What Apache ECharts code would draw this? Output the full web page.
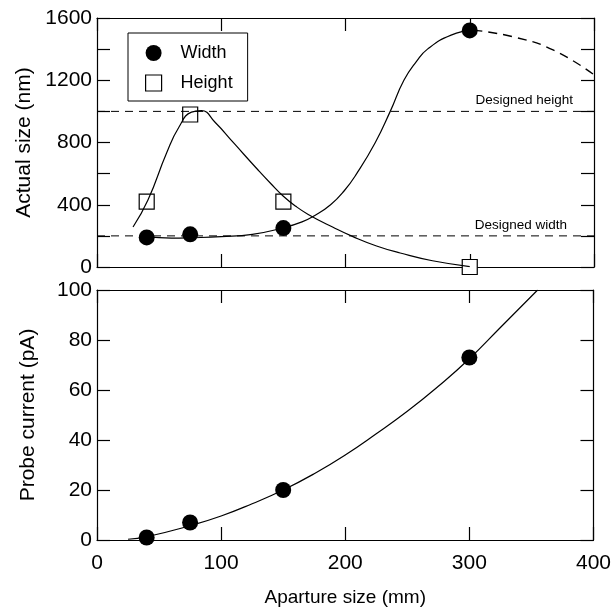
<!DOCTYPE html>
<html>
<head>
<meta charset="utf-8">
<script src="https://cdn.jsdelivr.net/npm/echarts@6/dist/echarts.min.js"></script>
<style>
  html, body { margin: 0; padding: 0; background: #fff; }
  #chart { width: 614px; height: 615px; }
</style>
</head>
<body>
<div id="chart"></div>
<script>
// measured points
const apertureSizes = [40, 75, 150, 300];
const widthValues = [190, 210, 250, 1520];
const heightValues = [420, 980, 420, 0];
const currentValues = [1, 7, 20, 73];

// fitted curves
const widthFit = [[40, 193], [60, 186], [75, 188], [100, 195], [125, 210], [150, 252], [165, 290], [175, 330], [188, 400], [199, 490], [209, 600], [224, 800], [236, 1000], [247, 1200], [257, 1320], [266, 1400], [285, 1490], [303, 1522]];
const widthFitDashed = [[303, 1522], [335, 1479], [367, 1395], [400, 1235]];
const heightFit = [[29, 257], [41, 430], [56, 733], [66, 900], [76, 995], [84, 1005], [95, 930], [110, 797], [130, 620], [140, 535], [150, 455], [160, 390], [170, 338], [190, 255], [206, 195], [225, 135], [244, 90], [270, 40], [300, 3]];
const currentFit = [[25, 0.3], [40, 1.3], [75, 5.7], [100, 9.6], [125, 14.5], [150, 20], [175, 26.5], [200, 34], [225, 42.5], [250, 51.5], [275, 61.5], [300, 72.5], [325, 85], [355, 100]];

const designedHeight = 1000;
const designedWidth = 200;

const xTicks = [0, 100, 200, 300, 400];

const font = 'Liberation Sans, Arial, Helvetica, sans-serif';
const black = '#000';

const mychart = echarts.init(document.getElementById('chart'));

function frameAxis(extra) {
  return Object.assign({
    type: 'value',
    axisLine: { show: true, onZero: false, lineStyle: { color: black, width: 1.2 } },
    axisTick: { show: true, inside: true, length: 13, lineStyle: { color: black, width: 1.2 } },
    axisLabel: { show: false },
    splitLine: { show: false }
  }, extra);
}

const tickLabel = { show: true, color: black, fontSize: 21, fontFamily: font };

const option = {
  animation: false,
  backgroundColor: '#fff',
  grid: [
    { left: 97, right: 20, top: 18, height: 249 },
    { left: 97, right: 20, top: 290, height: 250 }
  ],
  legend: {
    left: 128,
    top: 33,
    orient: 'vertical',
    itemWidth: 16,
    itemHeight: 16,
    itemGap: 12,
    padding: [11, 15, 9, 17],
    borderColor: black,
    borderWidth: 1,
    textStyle: { color: black, fontSize: 18, fontFamily: font, padding: [0, 0, 0, 14] },
    data: [
      { name: 'Width', icon: 'circle', itemStyle: { color: black, borderColor: black } },
      { name: 'Height', icon: 'rect', itemStyle: { color: '#fff', borderColor: black, borderWidth: 1.2 } }
    ]
  },
  xAxis: [
    frameAxis({ gridIndex: 0, position: 'bottom', min: 0, max: 400, interval: 100 }),
    frameAxis({ gridIndex: 0, position: 'top', min: 0, max: 400, interval: 100 }),
    frameAxis({
      gridIndex: 1, position: 'bottom', min: 0, max: 400, interval: 100,
      axisLabel: Object.assign({}, tickLabel, { margin: 13, formatter: v => xTicks.includes(v) ? String(v) : '' }),
      name: 'Aparture size (mm)', nameLocation: 'middle', nameGap: 48,
      nameTextStyle: { color: black, fontSize: 19, fontFamily: font }
    }),
    frameAxis({ gridIndex: 1, position: 'top', min: 0, max: 400, interval: 100 })
  ],
  yAxis: [
    frameAxis({
      gridIndex: 0, position: 'left', min: 0, max: 1600, interval: 200,
      axisLabel: Object.assign({}, tickLabel, { margin: 5, formatter: v => v % 400 === 0 ? String(v) : '' }),
      name: 'Actual size (nm)', nameLocation: 'middle', nameGap: 58,
      nameTextStyle: { color: black, fontSize: 21, fontFamily: font }
    }),
    frameAxis({ gridIndex: 0, position: 'right', min: 0, max: 1600, interval: 200 }),
    frameAxis({
      gridIndex: 1, position: 'left', min: 0, max: 100, interval: 20,
      axisLabel: Object.assign({}, tickLabel, { margin: 5 }),
      name: 'Probe current (pA)', nameLocation: 'middle', nameGap: 58,
      nameTextStyle: { color: black, fontSize: 21, fontFamily: font }
    }),
    frameAxis({ gridIndex: 1, position: 'right', min: 0, max: 100, interval: 20 })
  ],
  series: [
    {
      name: 'designed height', type: 'line', xAxisIndex: 0, yAxisIndex: 0,
      data: [[0, designedHeight], [400, designedHeight]], symbol: 'none', silent: true,
      lineStyle: { color: black, width: 1, type: [8, 6] },
      markLine: {
        silent: true, symbol: 'none',
        lineStyle: { color: 'rgba(0,0,0,0)', width: 0 },
        label: { show: true, position: 'insideEndTop', distance: [21, 4], formatter: 'Designed height', color: black, fontSize: 13.5, fontFamily: font },
        data: [{ yAxis: designedHeight }]
      }
    },
    {
      name: 'designed width', type: 'line', xAxisIndex: 0, yAxisIndex: 0,
      data: [[0, designedWidth], [400, designedWidth]], symbol: 'none', silent: true,
      lineStyle: { color: black, width: 1, type: [8, 6] },
      markLine: {
        silent: true, symbol: 'none',
        lineStyle: { color: 'rgba(0,0,0,0)', width: 0 },
        label: { show: true, position: 'insideEndTop', distance: [27, 4], formatter: 'Designed width', color: black, fontSize: 13.5, fontFamily: font },
        data: [{ yAxis: designedWidth }]
      }
    },
    {
      name: 'width fit', type: 'line', xAxisIndex: 0, yAxisIndex: 0,
      data: widthFit, symbol: 'none', smooth: 0.5,
      lineStyle: { color: black, width: 1.2 }
    },
    {
      name: 'width fit ext', type: 'line', xAxisIndex: 0, yAxisIndex: 0,
      data: widthFitDashed, symbol: 'none', smooth: 0.5,
      lineStyle: { color: black, width: 1.4, type: [9, 6] }
    },
    {
      name: 'height fit', type: 'line', xAxisIndex: 0, yAxisIndex: 0,
      data: heightFit, symbol: 'none', smooth: 0.5,
      lineStyle: { color: black, width: 1.2 }
    },
    {
      name: 'Width', type: 'scatter', xAxisIndex: 0, yAxisIndex: 0,
      data: apertureSizes.map((x, i) => [x, widthValues[i]]),
      symbol: 'circle', symbolSize: 16, clip: false,
      itemStyle: { color: black, opacity: 1 }
    },
    {
      name: 'Height', type: 'scatter', xAxisIndex: 0, yAxisIndex: 0,
      data: apertureSizes.map((x, i) => [x, heightValues[i]]),
      symbol: 'rect', symbolSize: 15, clip: false,
      itemStyle: { color: '#fff', borderColor: black, borderWidth: 1.2, opacity: 1 }
    },
    {
      name: 'current fit', type: 'line', xAxisIndex: 2, yAxisIndex: 2,
      data: currentFit, symbol: 'none', smooth: 0.5,
      lineStyle: { color: black, width: 1.2 }
    },
    {
      name: 'Current', type: 'scatter', xAxisIndex: 2, yAxisIndex: 2,
      data: apertureSizes.map((x, i) => [x, currentValues[i]]),
      symbol: 'circle', symbolSize: 16, clip: false,
      itemStyle: { color: black, opacity: 1 }
    }
  ]
};

mychart.setOption(option);
</script>
</body>
</html>
